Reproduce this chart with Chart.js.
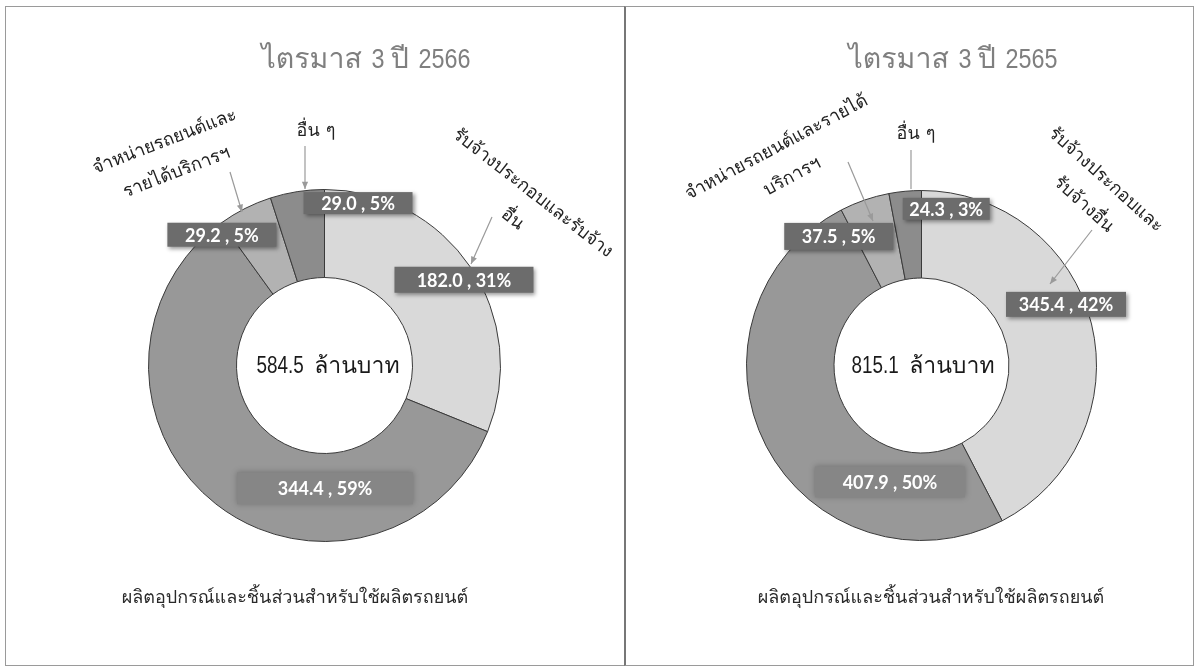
<!DOCTYPE html>
<html><head><meta charset="utf-8">
<script src="https://cdn.jsdelivr.net/npm/chart.js@4.4.0/dist/chart.umd.min.js"></script>
<style>
html,body{margin:0;padding:0;background:#fff;width:1194px;height:668px;overflow:hidden;}
#wrap{position:relative;width:1194px;height:668px;}
canvas{position:absolute;left:0;top:0;}
.panel{position:absolute;box-sizing:border-box;}
</style></head><body>
<div id="wrap">
<div class="panel" style="left:5px;top:6px;width:621px;height:660px;border:1px solid #9a9a9a;border-right:2px solid #777;"></div>
<div class="panel" style="left:624px;top:6px;width:570px;height:660px;border:1px solid #9a9a9a;border-left:2px solid #777;"></div>
<canvas id="c1" width="1194" height="668"></canvas>
<canvas id="c2" width="1194" height="668"></canvas>
</div>
<script>
// ---- data ----
const categories = ['รับจ้างประกอบและรับจ้างอื่น', 'ผลิตอุปกรณ์และชิ้นส่วนสำหรับใช้ผลิตรถยนต์', 'จำหน่ายรถยนต์และรายได้บริการฯ', 'อื่น ๆ'];
const values2566 = [182.0, 344.4, 29.2, 29.0];
const percents2566 = [31, 59, 5, 5];
const values2565 = [345.4, 407.9, 37.5, 24.3];
const percents2565 = [42, 50, 5, 3];
const titles = ['ไตรมาส 3 ปี 2566', 'ไตรมาส 3 ปี 2565'];
const totals = ['584.5', '815.1'];
const unitText = 'ล้านบาท';
const bottomLabel = 'ผลิตอุปกรณ์และชิ้นส่วนสำหรับใช้ผลิตรถยนต์';
const labels2566 = [['จำหน่ายรถยนต์และ', 'รายได้บริการฯ'], ['อื่น ๆ'], ['รับจ้างประกอบและรับจ้าง', 'อื่น']];
const labels2565 = [['จำหน่ายรถยนต์และรายได้', 'บริการฯ'], ['อื่น ๆ'], ['รับจ้างประกอบและ', 'รับจ้างอื่น']];

// ---- styles / layout ----
const colors = ['#d9d9d9', '#989898', '#b2b2b2', '#8c8c8c'];
const THAI = 'Tahoma, Waree, Loma, Garuda, "Noto Sans Thai Looped", "Noto Sans Thai", "Noto Sans Thai UI", "Noto Sans", sans-serif';
const NUMF = 'Lato, "Open Sans", sans-serif';

const layouts = [
  {
    pad: {left: 148, top: 189, right: 693, bottom: 126},
    title: [366, 68],
    center: [328, 373],
    bottom: [295, 603],
    cats: [
      {x: 171, y: 158, a: -21},
      {x: 316, y: 132, a: 0},
      {x: 522, y: 207, a: 38}
    ],
    leaders: [[305, 146, 305, 189, 1], [230, 172, 242, 212, 1], [492, 217, 471, 264, 1]],
    boxes: [
      {dx: 30, dy: -12, w: 139, h: 26},
      {dx: 82, dy: 19, w: 176, h: 32, soft: 1},
      {dx: -43, dy: -13, w: 109, h: 24},
      {dx: 54, dy: -32, w: 109, h: 22}
    ]
  },
  {
    pad: {left: 746, top: 190, right: 97, bottom: 127},
    title: [953, 68],
    center: [923, 373],
    bottom: [931, 603],
    cats: [
      {x: 785, y: 163, a: -28},
      {x: 916, y: 135, a: 0},
      {x: 1094, y: 193, a: 42}
    ],
    leaders: [[911, 150, 911, 189, 0], [848, 162, 873, 221, 1], [1092, 230, 1050, 284, 1]],
    boxes: [
      {dx: 17, dy: -30, w: 120, h: 25},
      {dx: 85, dy: 56, w: 150, h: 31, soft: 1},
      {dx: -40, dy: -5, w: 109, h: 27},
      {dx: 37, dy: -26, w: 87, h: 22}
    ]
  }
];

function fmt(v) { return v.toFixed(1); }

// narrow latin font detection (for digits in titles / centre text)
let NARROW = '"Liberation Sans Narrow"';
let narrowScale = 1;
(function () {
  const c = document.createElement('canvas').getContext('2d');
  c.font = '40px "Liberation Sans Narrow", monospace';
  const a = c.measureText('0123456789abc').width;
  c.font = '40px monospace';
  const b = c.measureText('0123456789abc').width;
  if (Math.abs(a - b) < 0.5) { NARROW = '"Liberation Sans"'; narrowScale = 0.82; }
})();

// draw text mixing Thai runs and narrow Latin runs, centred on x, alphabetic baseline y
function drawMixed(ctx, text, x, y, size) {
  const runs = [];
  let cur = '', curThai = null;
  for (const ch of text) {
    const isThai = /[\u0E00-\u0E7F]/.test(ch);
    const t = (ch === ' ' && curThai !== null) ? curThai : isThai;
    if (curThai === null || t === curThai) { cur += ch; curThai = t; }
    else { runs.push([cur, curThai]); cur = ch; curThai = t; }
  }
  if (cur) runs.push([cur, curThai]);
  let total = 0;
  const widths = runs.map(function (r) {
    ctx.font = size + 'px ' + (r[1] ? THAI : NARROW);
    const w = ctx.measureText(r[0]).width * (r[1] ? 1 : narrowScale);
    total += w;
    return w;
  });
  let px = x - total / 2;
  ctx.textAlign = 'left';
  ctx.textBaseline = 'alphabetic';
  runs.forEach(function (r, i) {
    ctx.font = size + 'px ' + (r[1] ? THAI : NARROW);
    if (r[1]) {
      ctx.fillText(r[0], px, y);
    } else {
      ctx.save();
      ctx.translate(px, y);
      ctx.scale(narrowScale, 1);
      ctx.fillText(r[0], 0, 0);
      ctx.restore();
    }
    px += widths[i];
  });
}

function overlayPlugin(idx, values, percents, catLabels) {
  const L = layouts[idx];
  return {
    id: 'overlay' + idx,
    afterDraw(chart) {
      const ctx = chart.ctx;
      ctx.save();
      // title
      ctx.fillStyle = '#7f7f7f';
      drawMixed(ctx, titles[idx], L.title[0], L.title[1], 28.5);
      // centre text
      ctx.fillStyle = '#1a1a1a';
      drawMixed(ctx, totals[idx] + '  ' + unitText, L.center[0], L.center[1], 23);
      // bottom category label
      ctx.fillStyle = '#2a2a2a';
      ctx.font = '18px ' + THAI;
      ctx.textAlign = 'center';
      ctx.textBaseline = 'alphabetic';
      ctx.fillText(bottomLabel, L.bottom[0], L.bottom[1]);
      // leader lines
      ctx.strokeStyle = '#9a9a9a';
      ctx.fillStyle = '#9a9a9a';
      ctx.lineWidth = 1.2;
      L.leaders.forEach(function (ld) {
        const [x1, y1, x2, y2, arrow] = ld;
        ctx.beginPath(); ctx.moveTo(x1, y1); ctx.lineTo(x2, y2); ctx.stroke();
        if (arrow) {
          const ang = Math.atan2(y2 - y1, x2 - x1);
          ctx.beginPath();
          ctx.moveTo(x2, y2);
          ctx.lineTo(x2 - 8 * Math.cos(ang - 0.4), y2 - 8 * Math.sin(ang - 0.4));
          ctx.lineTo(x2 - 8 * Math.cos(ang + 0.4), y2 - 8 * Math.sin(ang + 0.4));
          ctx.closePath(); ctx.fill();
        }
      });
      // rotated category labels
      ctx.fillStyle = '#222';
      ctx.font = '18px ' + THAI;
      ctx.textAlign = 'center';
      ctx.textBaseline = 'middle';
      L.cats.forEach(function (c, i) {
        const lines = catLabels[i];
        ctx.save();
        ctx.translate(c.x, c.y);
        ctx.rotate(c.a * Math.PI / 180);
        const gap = 33;
        lines.forEach(function (t, k) {
          ctx.fillText(t, 0, (k - (lines.length - 1) / 2) * gap);
        });
        ctx.restore();
      });
      // data label boxes
      const meta = chart.getDatasetMeta(0);
      meta.data.forEach(function (arc, i) {
        const p = arc.tooltipPosition();
        const b = L.boxes[i];
        const cx = p.x + b.dx, cy = p.y + b.dy;
        ctx.save();
        if (b.soft) {
          ctx.shadowColor = 'rgba(0,0,0,0.25)';
          ctx.shadowBlur = 6;
          ctx.fillStyle = '#868686';
        } else {
          ctx.shadowColor = 'rgba(0,0,0,0.4)';
          ctx.shadowBlur = 4;
          ctx.shadowOffsetX = 2;
          ctx.shadowOffsetY = 2;
          ctx.fillStyle = '#6c6c6c';
        }
        ctx.fillRect(cx - b.w / 2, cy - b.h / 2, b.w, b.h);
        ctx.restore();
        ctx.fillStyle = '#ffffff';
        ctx.font = 'bold 18px ' + NUMF;
        ctx.textAlign = 'center';
        ctx.textBaseline = 'middle';
        ctx.fillText(fmt(values[i]) + ' , ' + percents[i] + '%', cx, cy + 1);
      });
      ctx.restore();
    }
  };
}

function makeChart(id, idx, values, percents, catLabels) {
  return new Chart(document.getElementById(id), {
    type: 'doughnut',
    data: {
      labels: categories,
      datasets: [{data: values, backgroundColor: colors, borderColor: '#3a3a3a', borderWidth: 1}]
    },
    options: {
      responsive: false,
      animation: false,
      events: [],
      cutout: '50%',
      layout: {padding: layouts[idx].pad},
      plugins: {legend: {display: false}, tooltip: {enabled: false}, title: {display: false}}
    },
    plugins: [overlayPlugin(idx, values, percents, catLabels)]
  });
}

makeChart('c1', 0, values2566, percents2566, labels2566);
makeChart('c2', 1, values2565, percents2565, labels2565);
</script>
</body></html>
